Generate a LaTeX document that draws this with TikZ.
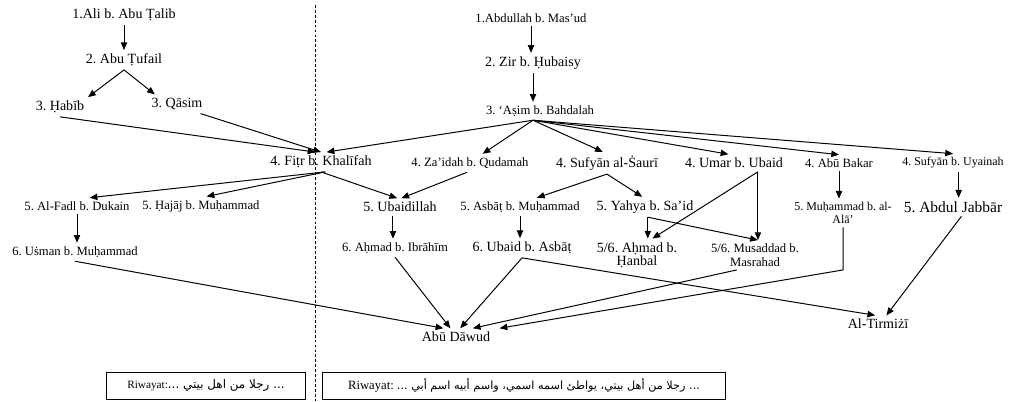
\documentclass[tikz,border=0pt]{standalone}
\usepackage{fontspec}
\setmainfont{Liberation Serif}
\newfontfamily\arabicfont[Script=Arabic]{DejaVu Sans}
\TeXXeTstate=1
\frenchspacing
\usetikzlibrary{arrows.meta,positioning}

\tikzset{
  rawi/.style={font=\fontsize{10}{9.5}\selectfont, inner sep=2.5pt, align=center},
  rawi mid/.style={rawi, font=\fontsize{9}{9.5}\selectfont},
  rawi small/.style={rawi, font=\fontsize{8.5}{9}\selectfont},
  sanad/.style={-{Triangle[length=5.5pt,width=4.5pt]}, line width=0.7pt},
  riwayat/.style={draw, line width=0.7pt, inner sep=0pt, minimum height=0.675cm}
}

\begin{document}
\begin{tikzpicture}[x=0.025cm, y=-0.025cm]
\useasboundingbox (0,0) rectangle (1010,401);
% Sanad of Ali
\node[rawi] (ali) at (124,15) {1.Ali b. Abu Ṭalib};
\node[rawi] (tufail) at (124,60) {2. Abu Ṭufail};
\node[rawi] (habib) at (60,107) {3. Ḥabīb};
\node[rawi] (qasim) at (177,104) {3. Qāsim};
\node[rawi] (fitr) at (321,162) {4. Fiṭr b. Khalīfah};
\node[rawi mid] (fadl) at (77,206) {5. Al-Fadl b. Dukain};
\node[rawi mid] (hajaj) at (201,206) {5. Ḥajāj b. Muḥammad};
\node[rawi mid] (usman) at (75,252) {6. Uṡman b. Muḥammad};
% Sanad of Abdullah b. Mas'ud
\node[rawi mid] (abdullah) at (531,18) {1.Abdullah b. Mas’ud};
\node[rawi] (zir) at (533,63) {2. Zir b. Ḥubaisy};
\node[rawi mid] (asim) at (540,111) {3. ‘Aṣim b. Bahdalah};
\node[rawi mid] (zaidah) at (470,163) {4. Za’idah b. Qudamah};
\node[rawi] (sauri) at (607,163) {4. Sufyān al-Ṡaurī};
\node[rawi] (umar) at (734,163) {4. Umar b. Ubaid};
\node[rawi mid] (abubakar) at (839,163) {4. Abū Bakar};
\node[rawi small] (uyainah) at (953,163) {4. Sufyān b. Uyainah};
\node[rawi] (ubaidillah) at (400,207) {5. Ubaidillah};
\node[rawi mid] (asbat) at (520,207) {5. Asbāṭ b. Muḥammad};
\node[rawi] (yahya) at (645,207) {5. Yahya b. Sa’id};
\node[rawi small] (ala) at (843,213) {5. Muḥammad b. al-\\Alā’};
\node[rawi, font=\fontsize{11}{11}\selectfont] (jabbar) at (953,207) {5. Abdul Jabbār};
\node[rawi mid] (ahmadib) at (395,248) {6. Aḥmad b. Ibrāhīm};
\node[rawi] (ubaid) at (522,248) {6. Ubaid b. Asbāṭ};
\node[rawi] (hanbal) at (637,255) {5/6. Aḥmad b.\\Ḥanbal};
\node[rawi mid] (musaddad) at (755,255) {5/6. Musaddad b.\\Masrahad};
% Mukharrij
\node[rawi] (abudawud) at (456,337) {Abū Dāwud};
\node[rawi] (tirmizi) at (878,324) {Al-Tirmiżī};
% Divider
\draw[dashed, dash pattern=on 2pt off 1.5pt, line width=0.6pt] (315,5) -- (315,401);
% Matn boxes
\node[riwayat, minimum width=4.95cm, font=\fontsize{8}{9}\selectfont] (matnkiri) at (206,385.5)
  {Riwayat:\arabicfont\fontsize{8.5}{10}\selectfont\beginR ... رجلا من اهل بيتي ...\endR};
\node[riwayat, minimum width=10.05cm, font=\fontsize{9}{10}\selectfont] (matnkanan) at (524,385.5)
  {Riwayat: {\arabicfont\fontsize{8}{10}\selectfont\beginR ... رجلا من أهل بيتي، يواطئ اسمه اسمي، واسم أبيه اسم أبي ...\endR}};
% Feet of shared connectors
\coordinate (asimfoot) at ([xshift=-5pt]asim.south);
\coordinate (umarfoot) at ([xshift=17pt]umar.south);
\coordinate (yahyafoot) at ([xshift=2pt]yahya.south);
\coordinate (uyainahfoot) at ([xshift=4pt]uyainah.south);
\coordinate (ubaidillahfoot) at ([xshift=-5pt]ubaidillah.south);
% Connectors, left
\draw[sanad] (ali.south) -- (tufail.north);
\draw[sanad] (tufail.south) -- (habib.north east);
\draw[sanad] (tufail.south) -- ([xshift=5pt]qasim.north west);
\draw[sanad] (habib.south) -- ([xshift=-4pt]fitr.north);
\draw[sanad] ([xshift=-4pt]qasim.south east) -- (fitr.north);
\draw[sanad] ([xshift=3pt]fitr.south) -- ([xshift=9pt]fadl.north);
\draw[sanad] ([xshift=3pt]fitr.south) -- ([xshift=4pt]hajaj.north);
\draw[sanad] (fitr.south) -- ([xshift=-2pt]ubaidillah.north);
\draw[sanad] (fadl.south) -- (fadl.south |- usman.north);
\draw[sanad] (usman.south) -- ([xshift=-9pt]abudawud.north);
% Connectors, right
\draw[sanad] (abdullah.south) -- (abdullah.south |- zir.north);
\draw[sanad] (zir.south) -- (zir.south |- asim.north);
\draw[sanad] (asimfoot) -- ([xshift=4pt]fitr.north);
\foreach \rawi/\dx in {zaidah/9pt, sauri/-3pt, umar/-4pt, abubakar/0pt, uyainah/0pt}
  \draw[sanad] (asimfoot) -- ([xshift=\dx]\rawi.north);
\draw[sanad] ([xshift=-2pt]zaidah.south) -- ([xshift=1pt]ubaidillah.north);
\draw[sanad] (sauri.south) -- ([xshift=12pt]asbat.north);
\draw[sanad] (sauri.south) -- ([xshift=-2pt]yahya.north);
\draw[sanad] (ubaidillahfoot) -- (ubaidillahfoot |- ahmadib.north);
\draw[sanad] (asbat.south) -- (asbat.south |- ubaid.north);
\draw[sanad] (yahyafoot) -- (yahyafoot |- hanbal.north);
\draw[sanad] (yahyafoot) -- ([xshift=2pt]musaddad.north);
\draw[sanad] (umarfoot) -- (umarfoot |- musaddad.north);
\draw[sanad] (umarfoot) -- ([xshift=11pt]hanbal.north);
\draw[sanad] (abubakar.south) -- (abubakar.south |- ala.north);
\draw[sanad] (uyainahfoot) -- (uyainahfoot |- jabbar.north);
\draw[sanad] (ahmadib.south) -- ([xshift=-4pt]abudawud.north);
\draw[sanad] (ubaid.south) -- ([xshift=3pt]abudawud.north);
\draw[sanad] ([xshift=-13pt]musaddad.south) -- ([xshift=12pt]abudawud.north);
\draw[sanad] (ala.south) -- (ala.south |- musaddad.south) -- ([xshift=31pt]abudawud.north);
\draw[sanad] (ubaid.south) -- ([xshift=-2pt]tirmizi.north);
\draw[sanad] ([xshift=6pt]jabbar.south) -- ([xshift=6pt]tirmizi.north);
\end{tikzpicture}
\end{document}
